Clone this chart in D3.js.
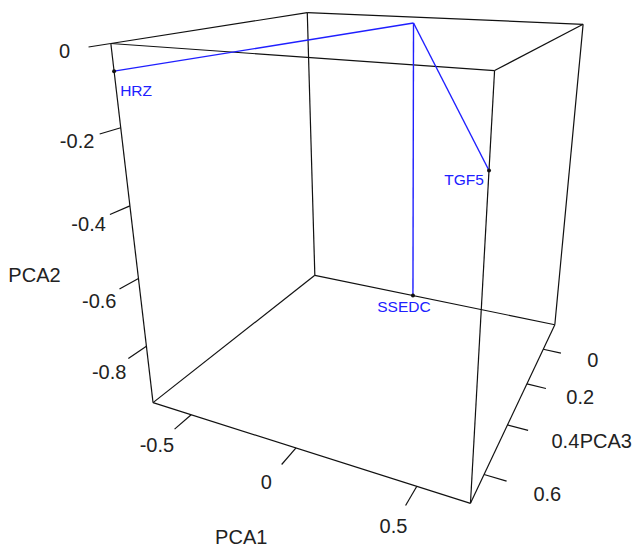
<!DOCTYPE html>
<html><head><meta charset="utf-8">
<script src="https://cdn.jsdelivr.net/npm/d3@7"></script>
<style>html,body{margin:0;padding:0;background:#fff}svg{display:block}</style>
</head><body><svg id="chart" width="634" height="549"></svg>
<script>
// ---- data ----
const labels = ["", "HRZ", "TGF5", "SSEDC"];
const pca1 = [0, -0.70, 0.70, -0.08];
const pca2 = [0, -0.064, -0.19, -0.978];
const pca3 = [0, 0.70, 0.70, -0.164];
const showPoint = [false, true, true, true];
const segments = [[0, 1], [0, 2], [0, 3]];
const pca1Ticks = [-0.5, 0, 0.5];
const pca2Ticks = [0, -0.2, -0.4, -0.6, -0.8];
const pca3Ticks = [0, 0.2, 0.4, 0.6];
const axisTitles = ["PCA1", "PCA2", "PCA3"];

// ---- layout / view ----
// camera calibration: where the corners of the unit bounding box appear
const viewCorners = [
  [[0,0,0],[315,275]], [[1,0,0],[555,325]], [[0,1,0],[307,13]], [[1,1,0],[583,24]],
  [[0,0,1],[153,403]], [[1,0,1],[470,503]], [[0,1,1],[111,43]], [[1,1,1],[495,71]]
];
const labelOffsets = [[0,0],[22,19],[-25,9],[-9,11]];
// per axis: tick length, label distance, title distance (all along tick direction), title side shift
const axisLayout = [
  {tick:0.075, label:0.15, title:0.27, side:0.07},
  {tick:0.075, label:0.15, title:0.285, side:0.06},
  {tick:0.06,  label:0.165, title:0.26, side:0.07}
];

function solveDLT(corr){
  const A=[], b=[];
  corr.forEach(([[X,Y,Z],[u,v]])=>{
    A.push([X,Y,Z,1,0,0,0,0,-u*X,-u*Y,-u*Z]); b.push(u);
    A.push([0,0,0,0,X,Y,Z,1,-v*X,-v*Y,-v*Z]); b.push(v);
  });
  const n=11;
  const M=d3.range(n).map(i=>{
    const row=new Array(n+1).fill(0);
    for(let j=0;j<n;j++) for(let k=0;k<A.length;k++) row[j]+=A[k][i]*A[k][j];
    for(let k=0;k<A.length;k++) row[n]+=A[k][i]*b[k];
    return row;
  });
  for(let c=0;c<n;c++){
    let p=c; for(let r=c+1;r<n;r++) if(Math.abs(M[r][c])>Math.abs(M[p][c])) p=r;
    [M[c],M[p]]=[M[p],M[c]];
    for(let r=0;r<n;r++){ if(r===c) continue; const f=M[r][c]/M[c][c]; for(let k=c;k<=n;k++) M[r][k]-=f*M[c][k]; }
  }
  return M.map((row,i)=>row[n]/row[i]);
}
const P = solveDLT(viewCorners);
function project([X,Y,Z]){
  const w = P[8]*X + P[9]*Y + P[10]*Z + 1;
  return [(P[0]*X+P[1]*Y+P[2]*Z+P[3])/w, (P[4]*X+P[5]*Y+P[6]*Z+P[7])/w];
}

const sx = d3.scaleLinear().domain(d3.extent(pca1)).range([0,1]);
const sy = d3.scaleLinear().domain(d3.extent(pca2)).range([0,1]);
const sz = d3.scaleLinear().domain(d3.extent(pca3)).range([0,1]);

const svg = d3.select("#chart");
const line = d3.line();
const font = "'Liberation Sans', Arial, sans-serif";
const fmt = t => String(t);

// box
const corners = d3.cross([0,1],[0,1],[0,1]);
const edges = [];
corners.forEach(c=>{ [0,1,2].forEach(a=>{ if(c[a]===0){ const d=c.slice(); d[a]=1; edges.push([c,d]); } }); });
svg.append("g").selectAll("path").data(edges).join("path")
  .attr("d", e=>line(e.map(project)))
  .attr("fill","none").attr("stroke","#111").attr("stroke-width",1.2);

// axes: PCA1 on (y=0,z=1) ticks toward +z ; PCA2 on (x=0,z=1) toward +z ; PCA3 on (x=1,y=0) toward +x
const axes = [
  {ticks:pca1Ticks, scale:sx, at:v=>[sx(v),0,1], dir:[0,0,1], side:[0,-1,0]},
  {ticks:pca2Ticks, scale:sy, at:v=>[0,sy(v),1], dir:[0,0,1], side:[-1,0,0]},
  {ticks:pca3Ticks, scale:sz, at:v=>[1,0,sz(v)], dir:[1,0,0], side:[0,-1,0]}
];
const add=(p,d,k)=>p.map((v,i)=>v+d[i]*k);
const ag = svg.append("g");
axes.forEach((ax,i)=>{
  const L = axisLayout[i];
  ag.append("g").selectAll("path").data(ax.ticks).join("path")
    .attr("d", t=>line([project(ax.at(t)), project(add(ax.at(t),ax.dir,L.tick))]))
    .attr("stroke","#111").attr("stroke-width",1.2);
  ag.append("g").selectAll("text").data(ax.ticks).join("text")
    .attr("transform", t=>`translate(${project(add(ax.at(t),ax.dir,L.label))})`)
    .attr("text-anchor","middle").attr("dy","0.36em")
    .attr("font-family",font).attr("font-size",20).attr("fill","#222")
    .text(fmt);
  const mid = d3.mean(ax.scale.domain());
  const tp = add(add(ax.at(mid),ax.dir,L.title), ax.side, L.side);
  ag.append("text").attr("transform",`translate(${project(tp)})`)
    .attr("text-anchor","middle").attr("dy","0.36em")
    .attr("font-family",font).attr("font-size",20).attr("fill","#222")
    .text(axisTitles[i]);
});

// data
const pts = labels.map((l,i)=>project([sx(pca1[i]), sy(pca2[i]), sz(pca3[i])]));
svg.append("g").selectAll("path").data(segments).join("path")
  .attr("d", s=>line([pts[s[0]], pts[s[1]]]))
  .attr("fill","none").attr("stroke","#1f1fff").attr("stroke-width",1.4);
svg.append("g").selectAll("circle").data(d3.range(labels.length).filter(i=>showPoint[i])).join("circle")
  .attr("cx", i=>pts[i][0]).attr("cy", i=>pts[i][1]).attr("r",2).attr("fill","#111");
svg.append("g").selectAll("text").data(d3.range(labels.length).filter(i=>labels[i])).join("text")
  .attr("x", i=>pts[i][0]+labelOffsets[i][0]).attr("y", i=>pts[i][1]+labelOffsets[i][1])
  .attr("text-anchor","middle").attr("dy","0.36em")
  .attr("font-family",font).attr("font-size",15.5).attr("fill","#2020ff")
  .text(i=>labels[i]);
</script></body></html>
